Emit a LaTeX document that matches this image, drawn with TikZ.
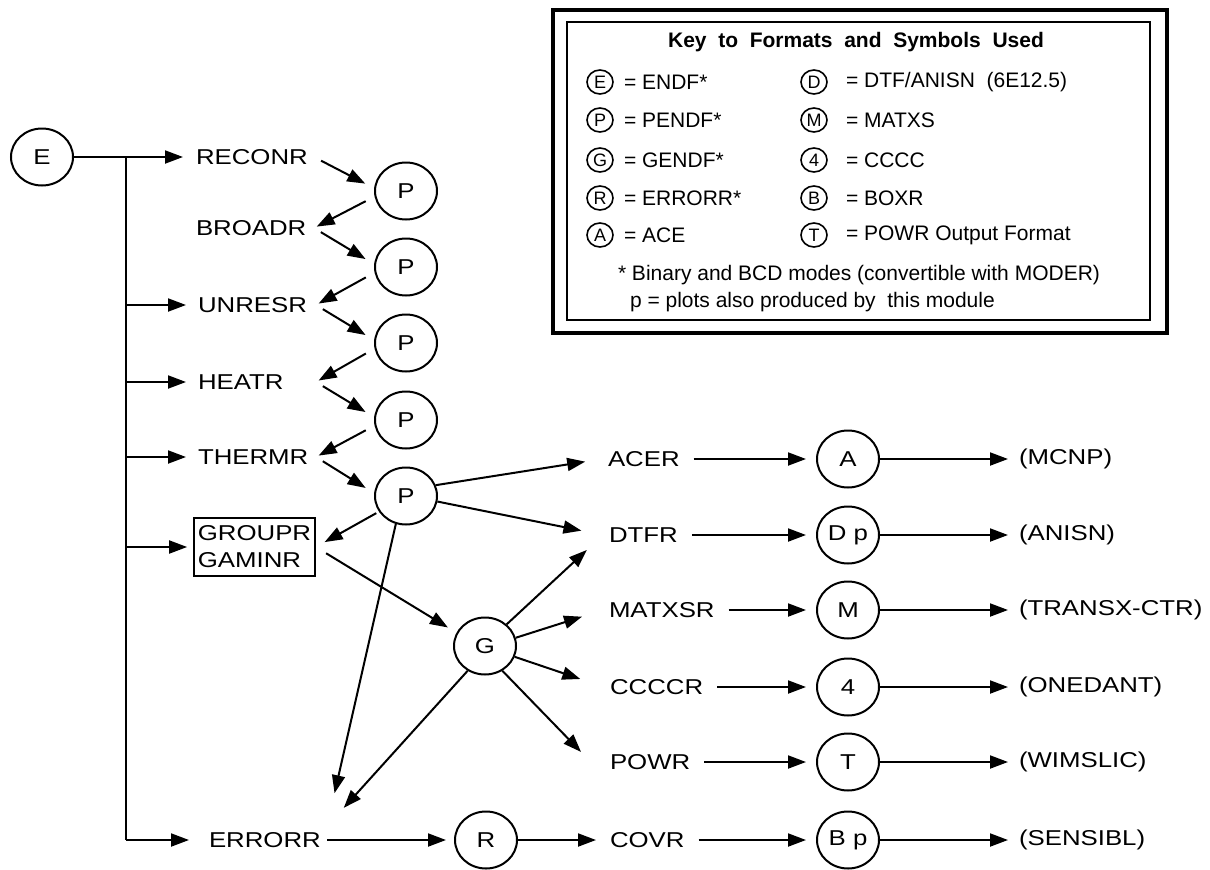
\documentclass[tikz,border=0pt]{standalone}
\usepackage{fontspec}
\setmainfont{Liberation Sans}[FakeStretch=1.2]
\newfontfamily\keyfont{Liberation Sans}
\usetikzlibrary{shapes.geometric,arrows.meta}

\begin{document}
\begin{tikzpicture}[x=1pt,y=-1pt,line width=2pt,every node/.style={font=\fontsize{21.5}{27}\selectfont}]
 \tikzstyle{f} = [ellipse, draw, minimum width=62pt, minimum height=57pt, inner sep=0pt]
 \tikzstyle{m} = [anchor=west, inner sep=5pt, text width=112pt, align=left]
 \tikzstyle{mr} = [anchor=west, inner sep=5pt]
 \tikzstyle{e} = [-{Triangle[length=18pt,width=13pt]}]
 \tikzstyle{k} = [ellipse, draw, line width=1.6pt, minimum width=26pt, minimum height=24pt, inner sep=0pt, font=\keyfont\fontsize{18}{20}\selectfont]
 \tikzstyle{kt} = [anchor=west, inner sep=3pt, font=\keyfont\fontsize{21}{24}\selectfont]
    \useasboundingbox (0,0) rectangle (1210,870);
    %% key
    \draw[line width=4pt] (553,10) rectangle (1167,333);
    \draw[line width=1.8pt] (567,22) rectangle (1150,320);
    \node[font=\keyfont\bfseries\fontsize{21}{24}\selectfont] (ktitle) at (856,42) {Key\ \ to\ \ Formats\ \ and\ \ Symbols\ \ Used};
    \foreach \y/\a/\ta/\b/\tb in {82/E/{ENDF*}/D/{DTF/ANISN\ \ (6E12.5)},
        120/P/{PENDF*}/M/{MATXS}, 160/G/{GENDF*}/4/{CCCC},
        198/R/{ERRORR*}/B/{BOXR}, 235/A/{ACE}/T/{POWR Output Format}} {
      \node[k] (kl\y) at (600,\y) {\a};
      \node[kt] (klt\y) at (620,\y) {= \ta};
      \node[k] (kr\y) at (814,\y) {\b};
      \node[kt] (krt\y) at (842,\y) {= \tb};
    }
    \node[font=\keyfont\fontsize{21}{24}\selectfont] (knote) at (859,275) {* Binary and BCD modes (convertible with MODER)};
    \node[kt] (kplot) at (626,302) {p = plots also produced by\ \ this module};
    %% modules
    \node[f] (E) at (42,157) {E};
    \node[m] (RECONR) at (190,157) {RECONR};
    \node[m] (BROADR) at (190,228) {BROADR};
    \node[m] (UNRESR) at (192,305) {UNRESR};
    \node[m] (HEATR) at (192,382) {HEATR};
    \node[m] (THERMR) at (192,457) {THERMR};
    \node[draw, line width=1.5pt, align=left, inner xsep=4pt, inner ysep=8pt] (grp) at (254.5,547) {GROUPR\\GAMINR};
    \node[m] (ERRORR) at (203,840) {ERRORR};
    \node[f] (p1) at (406,191) {P};
    \node[f] (p2) at (406,267) {P};
    \node[f] (p3) at (406,343) {P};
    \node[f] (p4) at (406,420) {P};
    \node[f] (p5) at (406,496) {P};
    \node[f] (G) at (485,646) {G};
    \node[f] (R) at (486,840) {R};
    \node[mr] (ACER) at (602,459) {ACER};
    \node[mr] (DTFR) at (603,535) {DTFR};
    \node[mr] (MATXSR) at (603,610) {MATXSR};
    \node[mr] (CCCCR) at (604,687) {CCCCR};
    \node[mr] (POWR) at (604,762) {POWR};
    \node[mr] (COVR) at (604,840) {COVR};
    \node[f] (A) at (848,459) {A};
    \node[f] (Dp) at (848,535) {D p};
    \node[f] (M) at (848,610) {M};
    \node[f] (C4) at (848,687) {4};
    \node[f] (T) at (848,762) {T};
    \node[f] (Bp) at (848,840) {B p};
    \node[mr] (MCNP) at (1013,459) {(MCNP)};
    \node[mr] (ANISN) at (1013,535) {(ANISN)};
    \node[mr] (TRANSX) at (1013,610) {(TRANSX-CTR)};
    \node[mr] (ONEDANT) at (1013,687) {(ONEDANT)};
    \node[mr] (WIMSLIC) at (1013,762) {(WIMSLIC)};
    \node[mr] (SENSIBL) at (1013,840) {(SENSIBL)};
    %% trunk
    \coordinate (top) at (126,157);
    \coordinate (bot) at (126,840);
    \draw[e,shorten >=7pt] (E) -- (RECONR);
    \draw (top) -- (bot);
    \foreach \n in {UNRESR,HEATR,THERMR,grp} \draw[e,shorten >=6pt] (top |- \n) -- (\n);
    \draw[e,shorten >=14pt] (bot) -- (ERRORR);
    %% zigzag
    \foreach \a/\b in {RECONR/p1,BROADR/p2,UNRESR/p3,HEATR/p4,THERMR/p5}
      \draw[e,shorten <=8pt,shorten >=10pt] (\a.east) -- (\b.175);
    \foreach \a/\b in {p1/BROADR,p2/UNRESR,p3/HEATR,p4/THERMR}
      \draw[e,shorten <=10pt,shorten >=3pt] (\a.190) -- (\b.east);
    \draw[e,shorten <=3pt,shorten >=10pt] (p5.210) -- (grp.east);
    \draw[e,shorten <=12pt,shorten >=10pt] (grp.east) -- (G.155);
    \draw[e,shorten >=34pt] (p5.250) -- (ERRORR.north east);
    \draw[e,shorten >=17pt] (p5.20) -- (ACER.west);
    \draw[e,shorten >=22pt] (p5.-10) -- (DTFR.west);
    \draw[e,shorten >=22pt] (G.45) -- (DTFR.west);
    \draw[e,shorten >=22pt] (G.15) -- (MATXSR.west);
    \draw[e,shorten >=25pt] (G.-20) -- (CCCCR.west);
    \draw[e,shorten >=33pt] (G.-55) -- (POWR.south west);
    \draw[e,shorten >=25pt] (G.235) -- (ERRORR.north east);
    \draw[e,shorten >=8pt] (ERRORR) -- (R);
    \draw[e,shorten >=8pt] (R) -- (COVR);
    %% outputs
    \foreach \a/\b/\c in {ACER/A/MCNP,DTFR/Dp/ANISN,MATXSR/M/TRANSX,CCCCR/C4/ONEDANT,POWR/T/WIMSLIC,COVR/Bp/SENSIBL} {
      \draw[e,shorten <=8pt,shorten >=10pt] (\a) -- (\b);
      \draw[e,shorten >=5pt] (\b) -- (\c);
    }
\end{tikzpicture}
\end{document}
